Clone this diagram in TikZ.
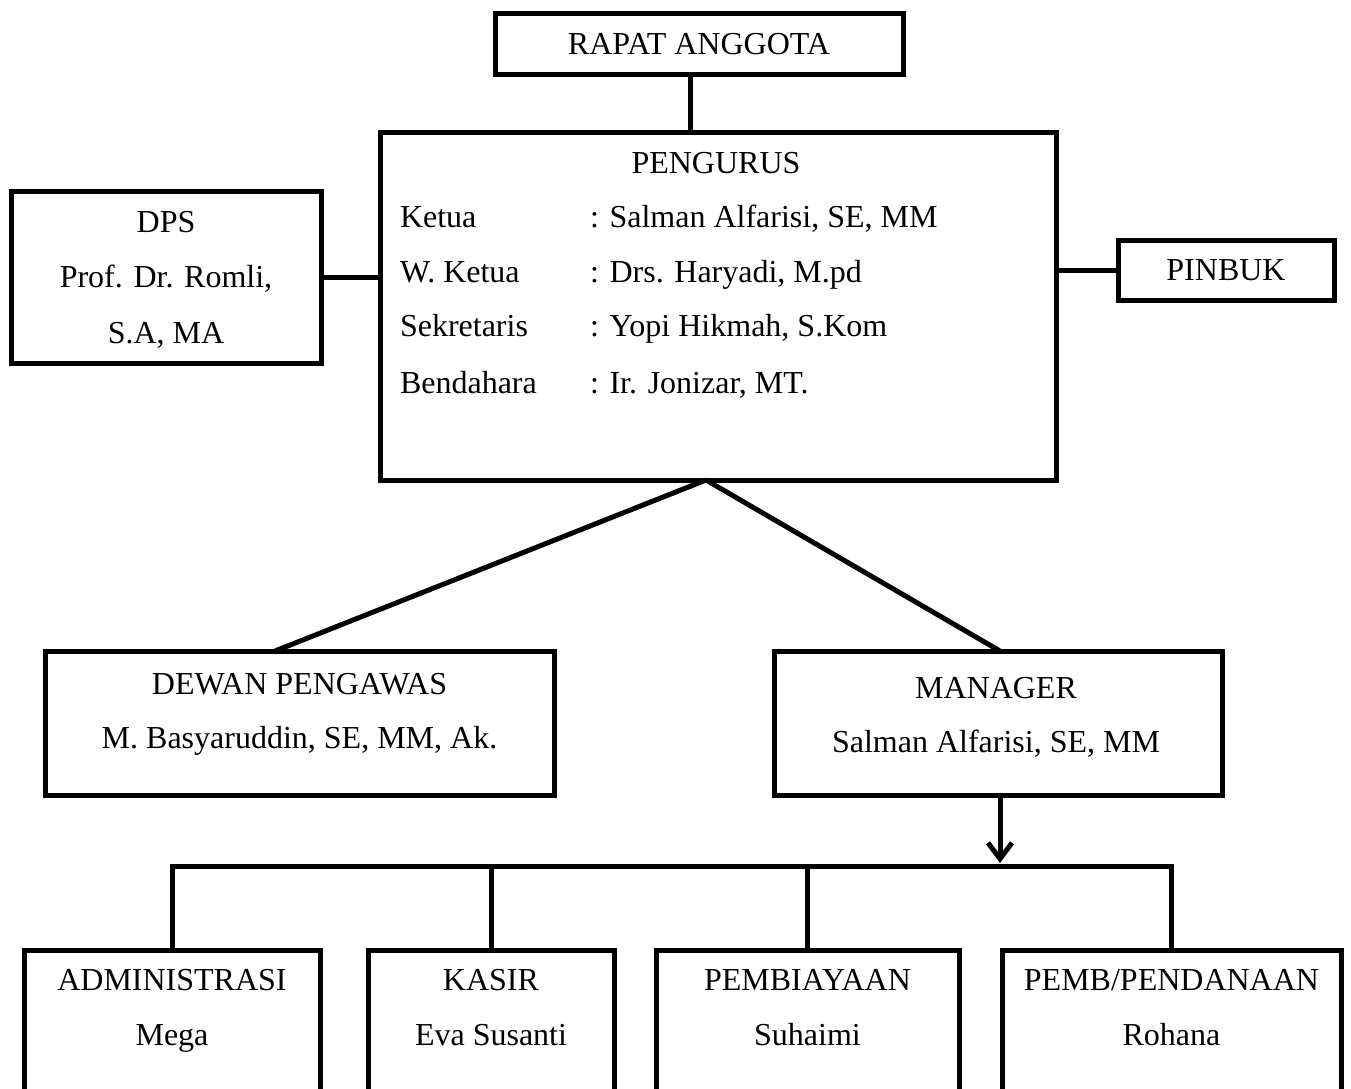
\documentclass[tikz,border=0pt]{standalone}
\usepackage{fontspec}
\setmainfont{Liberation Serif}
\usetikzlibrary{arrows.meta,calc}
\begin{document}
\begin{tikzpicture}[x=1pt,y=-1pt,
  box/.style={draw, line width=5pt, rectangle, inner sep=0pt, outer sep=0pt},
  txt/.style={inner sep=0pt, outer sep=0pt, anchor=base, font=\fontsize{32}{38}\selectfont},
  ltxt/.style={txt, anchor=base west},
  conn/.style={line width=5pt}]
\useasboundingbox (0,0) rectangle (1351,1088);
\clip (0,0) rectangle (1351,1088);
% boxes
\node[box, minimum width=408pt, minimum height=61pt] (rapat) at (699,43.5) {};
\node[box, minimum width=676pt, minimum height=348pt] (pengurus) at (718,306) {};
\node[box, minimum width=310pt, minimum height=172pt] (dps) at (166,277) {};
\node[box, minimum width=216pt, minimum height=60pt] (pinbuk) at (1226,270) {};
\node[box, minimum width=509pt, minimum height=144pt] (dewan) at (299.5,723) {};
\node[box, minimum width=448pt, minimum height=144pt] (manager) at (998,723) {};
\node[box, minimum width=296pt, minimum height=250pt] (admin) at (172,1075) {};
\node[box, minimum width=246pt, minimum height=250pt] (kasir) at (491,1075) {};
\node[box, minimum width=303pt, minimum height=250pt] (pemb) at (807.5,1075) {};
\node[box, minimum width=339pt, minimum height=250pt] (pend) at (1171.5,1075) {};
% texts
\node[txt] (trapat) at (699,54) {RAPAT ANGGOTA};
\node[txt] (tpeng) at (716,173) {PENGURUS};
\node[ltxt] (l1) at (400,227) {Ketua};
\node[ltxt] (l2) at (400,282) {W. Ketua};
\node[ltxt] (l3) at (400,336) {Sekretaris};
\node[ltxt] (l4) at (400,393) {Bendahara};
\node[ltxt] (v1) at (590,227) {: Salman Alfarisi, SE, MM};
\node[ltxt] (v2) at (590,282) {: Drs. Haryadi, M.pd};
\node[ltxt] (v3) at (590,336) {: Yopi Hikmah, S.Kom};
\node[ltxt] (v4) at (590,393) {: Ir. Jonizar, MT.};
\node[txt] (tdps1) at (166,232) {DPS};
\node[txt] (tdps2) at (166,287) {Prof. Dr. Romli,};
\node[txt] (tdps3) at (166,343) {S.A, MA};
\node[txt] (tpin) at (1226,280) {PINBUK};
\node[txt] (tdew1) at (299.5,694) {DEWAN PENGAWAS};
\node[txt] (tdew2) at (299.5,748) {M. Basyaruddin, SE, MM, Ak.};
\node[txt] (tman1) at (996,698) {MANAGER};
\node[txt] (tman2) at (996,752) {Salman Alfarisi, SE, MM};
\node[txt] (tad1) at (172,990) {ADMINISTRASI};
\node[txt] (tad2) at (172,1045) {Mega};
\node[txt] (tka1) at (491,990) {KASIR};
\node[txt] (tka2) at (491,1045) {Eva Susanti};
\node[txt] (tpe1) at (807.5,990) {PEMBIAYAAN};
\node[txt] (tpe2) at (807.5,1045) {Suhaimi};
\node[txt] (tpd1) at (1171.5,990) {PEMB/PENDANAAN};
\node[txt] (tpd2) at (1171.5,1045) {Rohana};
% connectors
\coordinate (ra) at (690,0);
\coordinate (apex) at (706,480);
\coordinate (dtop) at (275,0);
\coordinate (mx) at (1000,0);
\coordinate (busy) at (0,866);
\coordinate (tip) at (1000,863);
\draw[conn] (rapat.south -| ra) -- (pengurus.north -| ra);
\draw[conn] (dps.east) -- (dps.east -| pengurus.west);
\draw[conn] (pinbuk.west) -- (pinbuk.west -| pengurus.east);
\draw[conn] (apex) -- (dewan.north -| dtop);
\draw[conn] (apex) -- (manager.north -| mx);
\draw[conn, -{Straight Barb[length=16pt,width=24pt]}] (manager.south -| mx) -- (tip);
\draw[conn, line join=miter] (admin.north) -- (busy -| admin.north) -- (busy -| pend.north) -- (pend.north);
\draw[conn] (busy -| kasir.north) -- (kasir.north);
\draw[conn] (busy -| pemb.north) -- (pemb.north);
\end{tikzpicture}
\end{document}
